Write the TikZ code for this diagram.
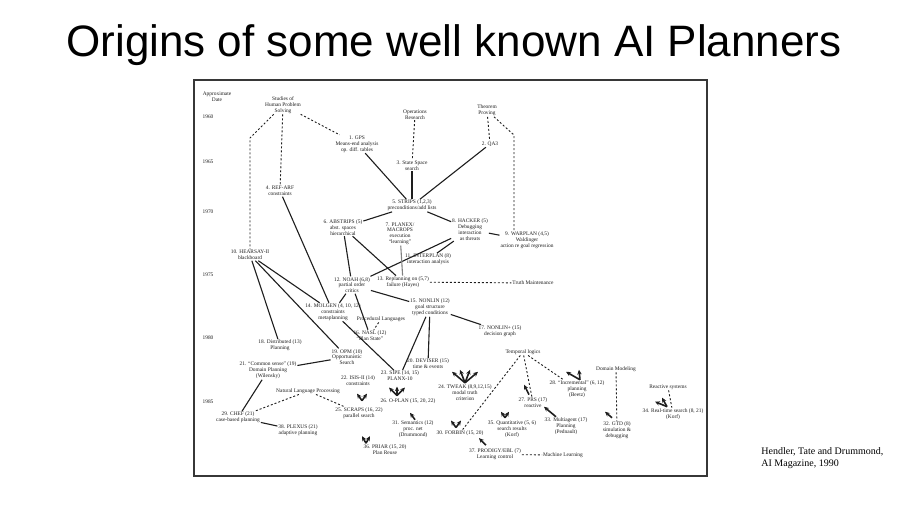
\documentclass[tikz,border=0pt]{standalone}
\usepackage{fontspec}
\setmainfont{Liberation Serif}
\newfontfamily\titlefont{Liberation Sans}
\usetikzlibrary{arrows.meta}
\definecolor{cink}{RGB}{30,30,30}
\definecolor{cframe}{RGB}{55,55,55}
\tikzset{
  titletext/.style={font=\titlefont\fontsize{22}{26}\selectfont, inner sep=0pt},
  srctext/.style={font=\fontsize{5}{6}\selectfont, align=left, inner sep=0pt},
  plan/.style={font=\fontsize{2.7}{2.9}\selectfont, align=center, inner sep=0.3pt, text=cink},
  link/.style={cink, line width=0.55pt},
  soft/.style={cink, line width=0.45pt, dash pattern=on 1pt off 1pt},
  stub/.style={cink, line width=0.8pt, -{Stealth[length=2.4pt,width=2.2pt]}},
}

\begin{document}
\begin{tikzpicture}[x=0.5pt,y=-0.5pt]
    \useasboundingbox (0,0) rectangle (907,510);
    \fill[white] (0,0) rectangle (907,510);
    \node[titletext, anchor=base] (title) at (454,56) {Origins of some well known AI Planners};
    \draw[cframe, line width=0.7pt] (194,80) rectangle (707,476);
    \node[srctext, anchor=west] (src) at (761,458) {Hendler, Tate and Drummond,\\AI Magazine, 1990};

    \node[plan] (date) at (217,97) {Approximate\\Date};
    \foreach \yr/\py in {1960/117,1965/162,1970/212,1975/275,1980/338,1985/402}
      \node[plan] (y\yr) at (208,\py) {\yr};

    \node[plan] (hs) at (283,105) {Studies of\\Human Problem\\Solving};
    \node[plan] (opr) at (415,114.5) {Operations\\Research};
    \node[plan] (thp) at (487,110.5) {Theorem\\Proving};
    \node[plan] (n1) at (357,144) {1. GPS\\Means-end analysis\\op. diff. tables};
    \node[plan] (n2) at (490,144) {2. QA3};
    \node[plan] (n3) at (412,165.5) {3. State Space\\search};
    \node[plan] (n4) at (280,191) {4. REF-ARF\\constraints};
    \node[plan] (n5) at (412,205.5) {5. STRIPS (1,2,3)\\preconditions/add lists};
    \node[plan] (n6) at (343,227.5) {6. ABSTRIPS (5)\\abst. spaces\\hierarchical};
    \node[plan] (n7) at (400,233.5) {7. PLANEX/\\MACROPS\\execution\\``learning''};
    \node[plan] (n8) at (470,229.5) {8. HACKER (5)\\Debugging\\interaction\\as threats};
    \node[plan] (n9) at (527,240.5) {9. WARPLAN (4,5)\\Waldinger\\action re goal regression};
    \node[plan] (n10) at (250,255) {10. HEARSAY-II\\blackboard};
    \node[plan] (n11) at (428,259.5) {11. INTERPLAN (8)\\interaction analysis};
    \node[plan] (n12) at (352,285) {12. NOAH (6,8)\\partial order\\critics};
    \node[plan] (n13) at (403,282) {13. Replanning on (5,7)\\failure (Hayes)};
    \node[plan] (tm) at (533,283) {Truth Maintenance};
    \node[plan] (n14) at (333,312) {14. MOLGEN (4, 10, 12)\\constraints\\metaplanning};
    \node[plan] (pl) at (381,319) {Procedural Languages};
    \node[plan] (n15) at (430,307.5) {15. NONLIN (12)\\goal structure\\typed conditions};
    \node[plan] (n16) at (370,335.5) {16. NASL (12)\\``Plan State''};
    \node[plan] (n17) at (500,331) {17. NONLIN+ (15)\\decision graph};
    \node[plan] (n18) at (280,345.5) {18. Distributed (13)\\Planning};
    \node[plan] (n19) at (347,357) {19. OPM (10)\\Opportunistic\\Search};
    \node[plan] (n20) at (428,364) {20. DEVISER (15)\\time \& events};
    \node[plan] (tl) at (523,352) {Temporal logics};
    \node[plan] (n21) at (268,370.5) {21. ``Common sense'' (19)\\Domain Planning\\(Wilensky)};
    \node[plan] (n22) at (358,381) {22. ISIS-II (14)\\constraints};
    \node[plan] (n23) at (400,376) {23. SIPE (14, 15)\\PLANX-10};
    \node[plan] (n24) at (465,392.5) {24. TWEAK (8,9,12,15)\\modal truth\\criterion};
    \node[plan] (n25) at (359,413) {25. SCRAPS (16, 22)\\parallel search};
    \node[plan] (n26) at (408,401) {26. O-PLAN (15, 20, 22)};
    \node[plan] (n27) at (533,402.5) {27. PRS (17)\\reactive};
    \node[plan] (n28) at (577,389) {28. ``Incremental'' (6, 12)\\planning\\(Beetz)};
    \node[plan] (dm) at (616,369) {Domain Modeling};
    \node[plan] (rs) at (668,387) {Reactive systems};
    \node[plan] (n29) at (238,417.5) {29. CHEF (21)\\case-based planning};
    \node[plan] (nlp) at (308,391) {Natural Language Processing};
    \node[plan] (n30) at (460,433) {30. FORBIN (15, 20)};
    \node[plan] (n31) at (413,429) {31. Semantics (12)\\proc. net\\(Drummond)};
    \node[plan] (n32) at (617,430) {32. GTD (8)\\simulation \&\\debugging};
    \node[plan] (n33) at (566,426) {33. Multiagent (17)\\Planning\\(Pednault)};
    \node[plan] (n34) at (673,414) {34. Real-time search (8, 21)\\(Korf)};
    \node[plan] (n35) at (512,429) {35. Quantitative (5, 6)\\search results\\(Korf)};
    \node[plan] (n36) at (385,450) {36. PRIAR (15, 20)\\Plan Reuse};
    \node[plan] (n37) at (495,454.5) {37. PRODIGY/EBL (7)\\Learning control};
    \node[plan] (ml) at (563,455) {Machine Learning};
    \node[plan] (n38) at (298,430.5) {38. PLEXUS (21)\\adaptive planning};

    \coordinate (hsbend) at (250,138);
    \coordinate (tpbend) at (514,135);
    \draw[soft] (hs) -- (n1);
    \draw[soft] (hs) -- (n4);
    \draw[soft] (hs) -- (hsbend) -- (n10);
    \draw[soft] (opr) -- (n3);
    \draw[soft] (thp) -- (n2);
    \draw[soft] (thp) -- (tpbend) -- (tpbend |- n9.north);
    \draw[link] (n1) -- (n5);
    \draw[link] (n3) -- (n5);
    \draw[link] (n2) -- (n5);
    \draw[link] (n4) -- (n14);
    \draw[link] (n5) -- (n6);
    \draw[link] (n5) -- (n8);
    \draw[link] (n6) -- (n12);
    \draw[link] (n8) -- (n12);
    \draw[link] (n6) -- (n13);
    \draw[link, gray] (n7) -- (n13);
    \draw[link] (n8) -- (n11);
    \draw[link] (n8) -- (n9);
    \draw[link] (n10) -- (n14);
    \draw[link] (n10) -- (n18);
    \draw[link] (n10) -- (n19);
    \draw[link] (n12) -- (n14);
    \draw[link] (n12) -- (n15);
    \draw[link] (n12) -- (n16);
    \draw[link] (n14) -- (n23);
    \draw[link] (n15) -- (n23);
    \draw[link] (n15) -- (n17);
    \draw[link] (n15) -- (n20);
    \draw[link] (n19) -- (n21);
    \draw[link] (n21) -- (n29);
    \draw[link] (n29) -- (n38);
    \draw[soft] (n13) -- (tm);
    \draw[soft] (n37) -- (ml);
    \draw[soft] (nlp) -- (n29);
    \draw[soft] (nlp) -- (n25);
    \draw[soft] (tl) -- (n30);
    \draw[soft] (tl) -- (n27);
    \draw[soft] (tl) -- (n28);
    \draw[soft] (dm) -- (n32);
    \draw[soft] (rs) -- (n34);
    \draw[soft] (pl) -- (n16);

    \foreach \dx/\dy in {-5/-7,5/-7} \draw[stub] ([shift={(3,-6)}]n25.north) -- ++(\dx,\dy);
    \foreach \dx/\dy in {-8/-8,0/-9,8/-8} \draw[stub] ([shift={(-11,-2)}]n26.north) -- ++(\dx,\dy);
    \foreach \dx/\dy in {-13/-11,-5/-13,5/-13,13/-11} \draw[stub] ([shift={(0,-1)}]n24.north) -- ++(\dx,\dy);
    \foreach \dx/\dy in {-5/-7,5/-7} \draw[stub] ([shift={(-4,-2)}]n30.north) -- ++(\dx,\dy);
    \foreach \dx/\dy in {-4/-6,4/-6} \draw[stub] ([shift={(-7,-2)}]n35.north) -- ++(\dx,\dy);
    \foreach \dx/\dy in {-4/-7,4/-7} \draw[stub] ([shift={(-19,-1)}]n36.north) -- ++(\dx,\dy);
    \foreach \dx/\dy in {-14/-8,-1/-10} \draw[stub] ([shift={(3,0)}]n28.north) -- ++(\dx,\dy);
    \foreach \dx/\dy in {-12/-5,-5/-9} \draw[stub] ([shift={(-6,-1)}]n34.north) -- ++(\dx,\dy);
    \draw[stub] ([shift={(2,0)}]n31.north) -- ++(-5,-7);
    \draw[stub] ([shift={(-9,-3)}]n37.north) -- ++(-7,-7);
    \draw[stub] ([shift={(-4,-2)}]n27.north) -- ++(-5,-10);
    \draw[stub] ([shift={(-5,-3)}]n32.north) -- ++(-7,-6);
    \draw[stub] ([shift={(-10,0)}]n33.north) -- ++(-12,-10);
  \end{tikzpicture}
\end{document}
